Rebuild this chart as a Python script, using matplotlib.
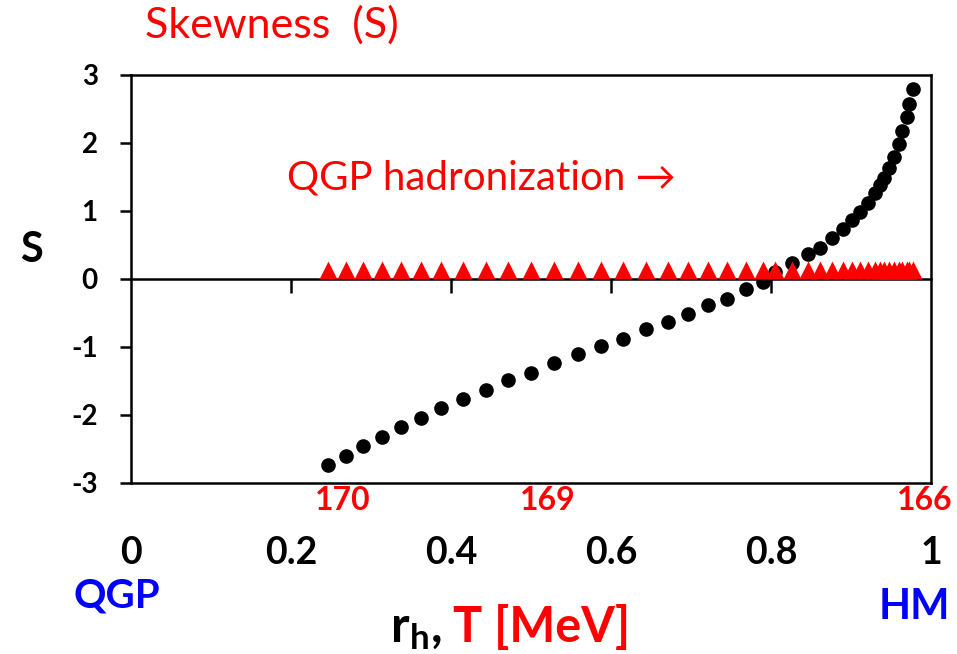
import matplotlib.pyplot as plt

plt.rcParams['font.family'] = ['Lato', 'DejaVu Sans']
plt.rcParams['mathtext.fontset'] = 'custom'
plt.rcParams['mathtext.rm'] = 'Lato'
plt.rcParams['mathtext.bf'] = 'Lato:bold'

# hadronization fraction r_h
r_h = [0.246, 0.269, 0.290, 0.314, 0.338, 0.363, 0.388, 0.415, 0.444, 0.471,
       0.500, 0.529, 0.559, 0.588, 0.615, 0.644, 0.671, 0.696, 0.721, 0.745,
       0.769, 0.790, 0.805, 0.826, 0.846, 0.861, 0.876, 0.890, 0.901, 0.911,
       0.921, 0.930, 0.936, 0.941, 0.948, 0.954, 0.960, 0.964, 0.970, 0.973,
       0.978]
# skewness of the hadron system
skew = [-2.74, -2.61, -2.45, -2.32, -2.17, -2.04, -1.90, -1.76, -1.63, -1.48,
        -1.38, -1.23, -1.10, -0.99, -0.88, -0.74, -0.63, -0.51, -0.39, -0.29,
        -0.15, -0.05, 0.10, 0.23, 0.36, 0.46, 0.60, 0.73, 0.86, 0.98,
        1.11, 1.26, 1.38, 1.48, 1.63, 1.79, 1.99, 2.18, 2.38, 2.58,
        2.80]
# QGP skewness (flat)
skew_qgp = [0.13] * len(r_h)

x_ticks = [0, 0.2, 0.4, 0.6, 0.8, 1]
x_labels = ['0', '0.2', '0.4', '0.6', '0.8', '1']
t_pos = [0.265, 0.521, 0.992]
t_labels = ['170', '169', '166']
y_ticks = [-3, -2, -1, 0, 1, 2, 3]

fig = plt.figure(figsize=(9.57, 6.54), dpi=100)
ax = fig.add_axes([0.1369, 0.2615, 0.8359, 0.6239])

ax.plot(r_h, skew, 'o', color='black', ms=9.5, zorder=3)
ax.plot(r_h, skew_qgp, '^', color='red', ms=13, mec='none', zorder=4)

ax.set_xlim(0, 1)
ax.set_ylim(-3, 3)

lw = 1.8
for s in ax.spines.values():
    s.set_linewidth(lw)
ax.spines['bottom'].set_position(('data', 0))
ax.axhline(-3, color='black', lw=lw, clip_on=False, zorder=5)

ax.set_xticks([0.2, 0.4, 0.6, 0.8])
ax.tick_params(axis='x', direction='out', length=10, width=lw, labelbottom=False)
ax.set_yticks(y_ticks)
ax.set_yticklabels([str(v) for v in y_ticks], fontsize=20, fontweight='bold')
ax.tick_params(axis='y', direction='out', length=8, width=lw, pad=16)

# r_h tick labels below the frame
sec = ax.secondary_xaxis(-0.13)
sec.spines['bottom'].set_visible(False)
sec.set_xticks(x_ticks)
sec.set_xticklabels(x_labels, fontsize=27, fontweight='bold')
sec.tick_params(length=0, pad=0)

# temperature labels
sec_t = ax.secondary_xaxis(0.0)
sec_t.spines['bottom'].set_visible(False)
sec_t.set_xticks(t_pos)
sec_t.set_xticklabels(t_labels, fontsize=23, fontweight='bold', color='red')
sec_t.tick_params(length=0, pad=2)

fig.text(0.152, 0.962, 'Skewness  (S)', color='red', fontsize=31, va='center')
ax.text(0.195, 1.49, 'QGP hadronization \u2192', color='red', fontsize=29,
        va='center', family=['Lato', 'DejaVu Sans'])
fig.text(0.033, 0.617, 'S', fontsize=30, fontweight='bold', ha='center', va='center')
fig.text(0.122, 0.088, 'QGP', color='blue', fontsize=29, fontweight='bold',
         ha='center', va='center')
fig.text(0.955, 0.072, 'HM', color='blue', fontsize=30, fontweight='bold',
         ha='center', va='center')
fig.text(0.462, 0.018, r'$\mathbf{r_h}$,', fontsize=36, fontweight='bold',
         ha='right', va='baseline')
fig.text(0.473, 0.018, 'T [MeV]', color='red', fontsize=35, fontweight='bold',
         ha='left', va='baseline')

fig.savefig('out.png', dpi=100)
